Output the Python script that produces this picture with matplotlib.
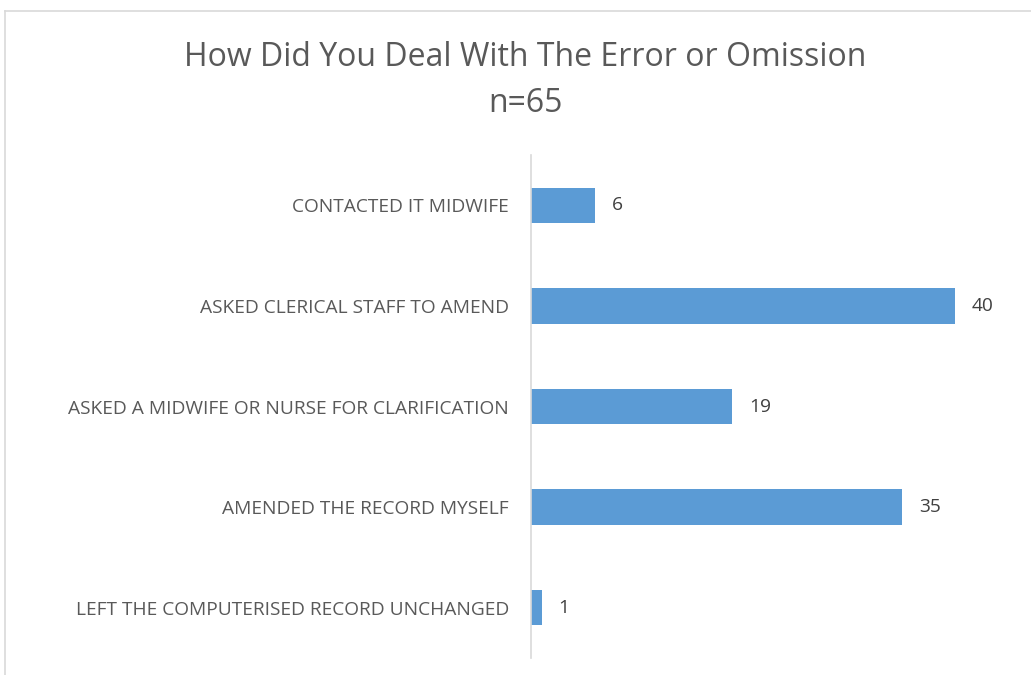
import matplotlib
matplotlib.use("Agg")
from matplotlib import pyplot as plt
from matplotlib.lines import Line2D

categories = [
    "LEFT THE COMPUTERISED RECORD UNCHANGED",
    "AMENDED THE RECORD MYSELF",
    "ASKED A MIDWIFE OR NURSE FOR CLARIFICATION",
    "ASKED CLERICAL STAFF TO AMEND",
    "CONTACTED IT MIDWIFE",
]
counts = [1, 35, 19, 40, 6]

plt.rcParams['font.family'] = ['Open Sans', 'DejaVu Sans']

W, H = 1031, 675
fig = plt.figure(figsize=(W / 100, H / 100), dpi=100)

# light chart border (top and left edges visible)
fig.add_artist(Line2D([5 / W, 5 / W], [0, 1 - 11 / H], color='#D9D9D9', lw=1.2))
fig.add_artist(Line2D([5 / W, 1], [1 - 11 / H, 1 - 11 / H], color='#D9D9D9', lw=1.2))

ax = fig.add_axes([531 / W, 1 - 658 / H, (1008 - 531) / W, (658 - 155) / H])
y = range(len(categories))
ax.barh(y, counts, height=0.35, color='#5B9BD5')
ax.set_xlim(0, 45)
ax.set_ylim(-0.5, len(categories) - 0.5)
ax.set_yticks(list(y))
ax.set_yticklabels(categories, fontsize=13.8, color='#595959')
ax.tick_params(axis='y', length=0, pad=16)
ax.set_xticks([])
for s in ['top', 'right', 'bottom']:
    ax.spines[s].set_visible(False)
ax.spines['left'].set_color('#D9D9D9')
ax.spines['left'].set_linewidth(1.2)

for i, v in enumerate(counts):
    ax.text(v + 1.6, i, str(v), va='center', ha='left', fontsize=13.8, color='#404040')

fig.text(525 / W, 1 - 57 / H, "How Did You Deal With The Error or Omission",
         ha='center', va='center', fontsize=23, color='#595959')
fig.text(525 / W, 1 - 104 / H, "n=65", ha='center', va='center', fontsize=23, color='#595959')

fig.savefig('out.png', dpi=100)
